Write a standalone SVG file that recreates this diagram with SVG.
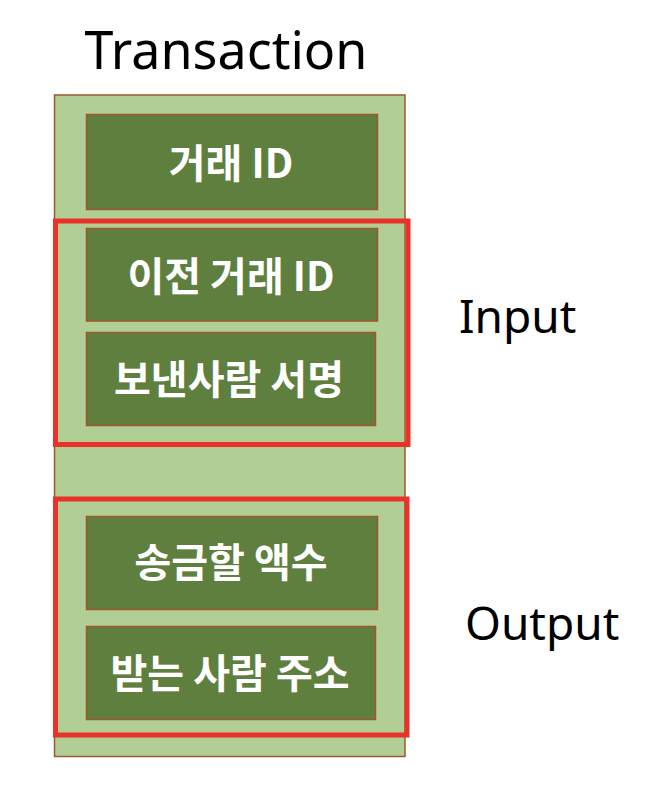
<svg xmlns="http://www.w3.org/2000/svg" width="646" height="798" viewBox="0 0 646 798">
<style>
.outer{fill:#b1cf95;stroke:#a0572d;stroke-width:1.5}
.field{fill:#5f7f3e;stroke:#a0572d;stroke-width:1.5}
.group{fill:none;stroke:#e8322a;stroke-width:5}
.ft{font-family:"Noto Sans CJK KR","Noto Sans",sans-serif;font-weight:bold;font-size:40px;fill:#ffffff;text-anchor:middle;dominant-baseline:central}
.lbl{font-family:"Noto Sans","Noto Sans CJK KR",sans-serif;font-size:46px;fill:#000000}
</style>
<rect width="646" height="798" fill="#ffffff"/>
<g id="transaction">
<rect class="outer" x="54.5" y="95" width="350.5" height="661.5"/>
<text class="lbl" x="226" y="69" text-anchor="middle" style="font-size:52px">Transaction</text>
</g>
<g id="tx-id">
<rect class="field" x="86.5" y="114.5" width="291" height="95"/>
<text class="ft" x="231" y="161">거래 ID</text>
</g>
<g id="prev-tx-id">
<rect class="field" x="86.5" y="228.5" width="291" height="92.5"/>
<text class="ft" x="231" y="274">이전 거래 ID</text>
</g>
<g id="sender-sig">
<rect class="field" x="86.5" y="332.5" width="289" height="93"/>
<text class="ft" x="229" y="377">보낸사람 서명</text>
</g>
<g id="amount">
<rect class="field" x="86.5" y="516.5" width="291" height="93"/>
<text class="ft" x="231" y="560">송금할 액수</text>
</g>
<g id="receiver-addr">
<rect class="field" x="86.5" y="626.5" width="289" height="93"/>
<text class="ft" x="230" y="671">받는 사람 주소</text>
</g>
<g id="input">
<rect class="group" x="55.5" y="221" width="352.5" height="223.5"/>
<text class="lbl" x="459" y="333">Input</text>
</g>
<g id="output">
<rect class="group" x="55.5" y="499" width="351.5" height="236"/>
<text class="lbl" x="465" y="640">Output</text>
</g>
<g id="connectors"/>
</svg>
